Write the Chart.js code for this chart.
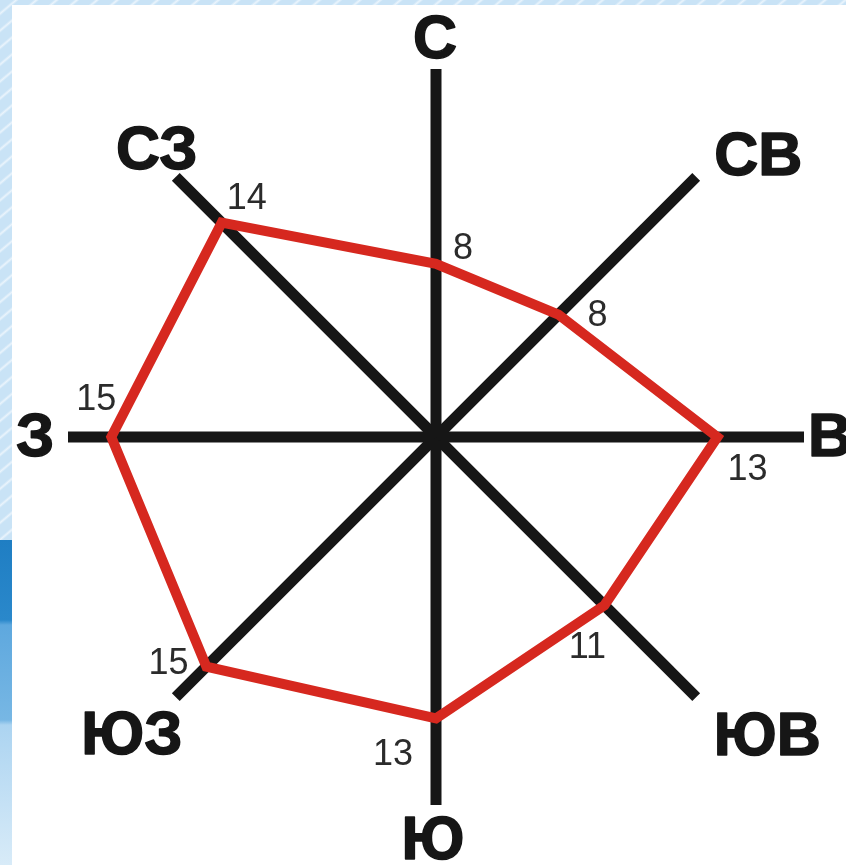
<!DOCTYPE html>
<html>
<head>
<meta charset="utf-8">
<script src="https://cdn.jsdelivr.net/npm/chart.js@4"></script>
<style>
  body { margin: 0; background: #fff; }
  #wrap { position: relative; width: 846px; height: 865px; overflow: hidden; }
  #stripTop { position: absolute; left: 0; top: 0; width: 846px; height: 540px;
    background: repeating-linear-gradient(-40deg, #c9e3f6 0px, #c9e3f6 9px, #eaf4fc 11px, #c9e3f6 13px); }
  #stripBottom { position: absolute; left: 0; top: 540px; width: 846px; height: 325px;
    background: linear-gradient(to bottom, #1f7ec3 0px, #2a88cb 80px, #5ea8de 85px, #77b7e4 180px, #acd4f1 185px, #d8ebf8 325px); }
  #paper { position: absolute; left: 12px; top: 5px; right: 0; bottom: 0; background: #fff; }
  #box { position: absolute; left: 0; top: 0; width: 846px; height: 865px; }
</style>
</head>
<body>
<div id="wrap">
  <div id="stripTop"></div>
  <div id="stripBottom"></div>
  <div id="paper"></div>
  <div id="box"><canvas id="rose"></canvas></div>
</div>
<script>
// wind directions, clockwise from north
const directions = ['С', 'СВ', 'В', 'ЮВ', 'Ю', 'ЮЗ', 'З', 'СЗ'];
// number of days with wind from each direction
const windDays = [8, 8, 13, 11, 13, 15, 15, 14];
const scaleMin = 0;
const scaleMax = 17;

// direction names at the ends of the axes
const directionLabels = {
    id: 'directionLabels',
    afterDraw(chart) {
        const scale = chart.scales.r;
        const ctx = chart.ctx;
        const shift = [[-1, -30], [62, -21], [26, 0], [71, 39], [-3, 35], [-44, 38], [-33, 0], [-19, -27]];
        ctx.save();
        ctx.font = 'bold 61px "Liberation Sans", Arial, sans-serif';
        ctx.fillStyle = '#161616';
        ctx.strokeStyle = '#161616';
        ctx.lineWidth = 1.5;
        ctx.lineJoin = 'round';
        ctx.textAlign = 'center';
        ctx.textBaseline = 'middle';
        directions.forEach(function (name, i) {
            const p = scale.getPointPosition(i, scale.drawingArea);
            const x = p.x + shift[i][0];
            const y = p.y + shift[i][1] + 2;
            ctx.strokeText(name, x, y);
            ctx.fillText(name, x, y);
        });
        ctx.restore();
    }
};

// numbers next to each vertex
const valueLabels = {
    id: 'valueLabels',
    afterDatasetsDraw(chart) {
        const meta = chart.getDatasetMeta(0);
        const ctx = chart.ctx;
        const shift = [[27, -15], [39, 2], [30, 33], [-17, 43], [-43, 37], [-38, -3], [-15, -37], [25, -24]];
        ctx.save();
        ctx.font = '36px "Liberation Sans", Arial, sans-serif';
        ctx.fillStyle = '#2b2b2b';
        ctx.textAlign = 'center';
        ctx.textBaseline = 'middle';
        meta.data.forEach(function (pt, i) {
            ctx.fillText(String(windDays[i]), pt.x + shift[i][0], pt.y + shift[i][1]);
        });
        ctx.restore();
    }
};

new Chart(document.getElementById('rose'), {
    type: 'radar',
    data: {
        labels: directions,
        datasets: [{
            data: windDays,
            borderColor: '#d6281f',
            borderWidth: 10,
            fill: false,
            pointRadius: 0,
            pointHoverRadius: 0,
            tension: 0
        }]
    },
    options: {
        responsive: true,
        maintainAspectRatio: false,
        animation: false,
        layout: {
            padding: { left: 68, right: 42, top: 69, bottom: 60 }
        },
        plugins: {
            legend: { display: false },
            tooltip: { enabled: false }
        },
        scales: {
            r: {
                min: scaleMin,
                max: scaleMax,
                grid: { display: false },
                angleLines: { display: true, color: '#161616', lineWidth: 11 },
                pointLabels: { display: false },
                ticks: { display: false }
            }
        }
    },
    plugins: [valueLabels, directionLabels]
});
</script>
</body>
</html>
